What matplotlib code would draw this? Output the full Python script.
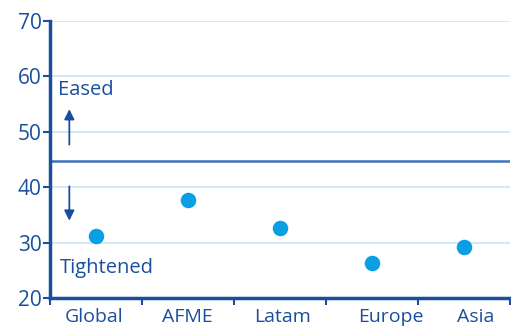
import matplotlib.pyplot as plt
import numpy as np

regions = ["Global", "AFME", "Latam", "Europe", "Asia"]
values = [31.2, 37.65, 32.6, 26.3, 29.2]
yticks = [20, 30, 40, 50, 60, 70]
threshold = 44.8

navy = "#1a4f9e"
dot = "#0a9fe3"
grid = "#cbe8f7"

plt.rcParams["font.family"] = ["Open Sans", "DejaVu Sans"]

fig = plt.figure(figsize=(5.11, 3.32), dpi=100)
ax = fig.add_axes([50 / 511, 1 - 298.3 / 332, 460 / 511, 277.3 / 332])

x = np.arange(len(regions))
ax.scatter(x, values, s=125, color=dot, zorder=3, linewidths=0)

ax.set_xlim(-0.5, len(regions) - 0.5)
ax.set_ylim(20, 70)
ax.set_yticks(yticks)
ax.yaxis.grid(True, color=grid, linewidth=1.3)
ax.set_axisbelow(True)
ax.axhline(threshold, color="#3a74bd", linewidth=1.8, zorder=2)

# category labels slightly offset like the original
label_pos = [-0.02, 0.99, 2.03, 3.2, 4.13]
ax.set_xticks(label_pos)
ax.set_xticklabels(regions, fontsize=14, color=navy)
ax.tick_params(axis="x", length=0, pad=7)
ax.set_xticks(np.arange(-0.5, len(regions)), minor=True)
ax.tick_params(axis="x", which="minor", length=5, width=1.5, color=navy, direction="out")

ax.tick_params(axis="y", labelsize=15, labelcolor=navy, length=5, width=1.5,
               color=navy, pad=1)

for s in ["top", "right"]:
    ax.spines[s].set_visible(False)
for s in ["left", "bottom"]:
    ax.spines[s].set_color(navy)
    ax.spines[s].set_linewidth(2.5)

ax.annotate("", xy=(-0.29, 54.6), xytext=(-0.29, 47.2),
            arrowprops=dict(arrowstyle="-|>", color=navy, lw=1.3, mutation_scale=15))
ax.annotate("", xy=(-0.29, 33.5), xytext=(-0.29, 40.7),
            arrowprops=dict(arrowstyle="-|>", color=navy, lw=1.3, mutation_scale=15))
ax.text(-0.41, 57.5, "Eased", fontsize=14.5, color=navy, va="center", ha="left")
ax.text(-0.39, 25.4, "Tightened", fontsize=14.5, color=navy, va="center", ha="left")

fig.savefig("out.png", dpi=100)
